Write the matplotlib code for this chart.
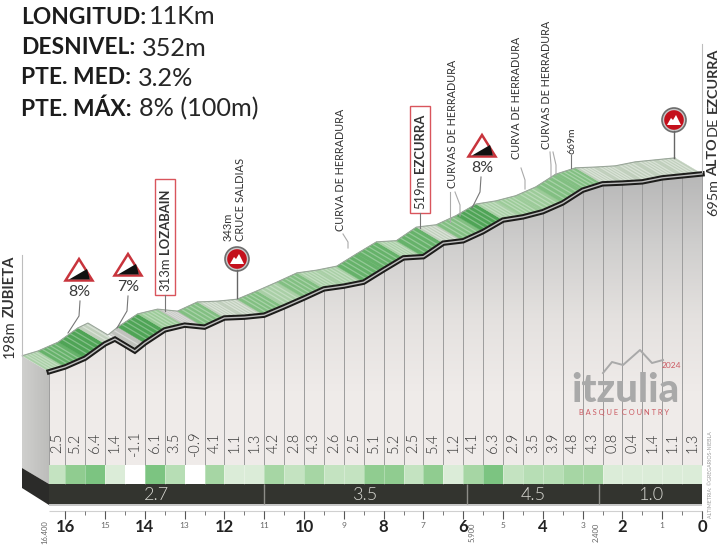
import numpy as np
import matplotlib
matplotlib.use("Agg")
import matplotlib.pyplot as plt
from matplotlib.colors import LinearSegmentedColormap
from matplotlib.patches import Polygon, Circle, Rectangle

plt.rcParams["font.family"] = ["Lato", "DejaVu Sans"]

# road profile
profile_km = [16.4, 16, 15.5, 15, 14.75, 14.5, 14.25, 14, 13.5, 13, 12.5, 12, 11.5, 11, 10.5, 10, 9.5, 9,
              8.5, 8, 7.5, 7, 6.5, 6, 5.5, 5, 4.5, 4, 3.5, 3, 2.5, 2, 1.5, 1, 0.5, 0]
profile_m = [198, 210, 232, 268, 280, 265, 250, 270, 303, 315, 310, 333, 335, 340, 361, 383, 406, 413,
             423, 454, 484, 487, 521, 527, 550, 579, 587, 600, 622, 654, 670, 672, 675, 685, 690, 695]

# gradient of each stretch
gradients = [2.5, 5.2, 6.4, 1.4, -1.1, 6.1, 3.5, -0.9, 4.1, 1.1, 1.3, 4.2, 2.8, 4.3, 2.6, 2.5, 5.1,
             5.2, 2.5, 5.4, 1.2, 4.1, 6.3, 2.9, 3.5, 3.9, 4.8, 4.3, 0.8, 0.4, 1.4, 1.1, 1.3]
cell_edges = [16.4] + [16 - 0.5 * i for i in range(33)]

sector_edges = [16.4, 11, 5.9, 2.58, 0]
sector_labels = ["2.7", "3.5", "4.5", "1.0"]
major_km = [16, 14, 12, 10, 8, 6, 4, 2, 0]
minor_km = [15, 13, 11, 9, 7, 5, 3, 1]

header_bold = ["LONGITUD:", "DESNIVEL:", "PTE. MED:", "PTE. MÁX:"]
header_value = ["11Km", "352m", "3.2%", "8% (100m)"]

W, H = 728, 546
PX_KM = 39.8
PX_M = 0.398
X0, Y198 = 702, 371.7
DX, DY = 27, 16  # 3d offset of the top face


def km_at(px):
    return (X0 - px) / PX_KM


def elev_at(py):
    return 198 + (Y198 - py) / PX_M


def cell_color(g):
    if g < 0:
        return "#ffffff"
    for lim, c in [(2, "#dbecd8"), (3, "#c4e3c1"), (4, "#b7deb5"), (5, "#a6d6a4"), (6, "#90cc90")]:
        if g < lim:
            return c
    return "#7cc481"


def face_color(g):
    if g < 0:
        return "#c0c2bd"
    for lim, c in [(2, "#c0cfbc"), (3, "#a9cfa6"), (4, "#9ccb99"), (5, "#82bf82"), (6, "#66b26a")]:
        if g < lim:
            return c
    return "#4fa456"


fig = plt.figure(figsize=(W / 100, H / 100), dpi=100, facecolor="white")

back = fig.add_axes([0, 0, 1, 1], zorder=1)
ax = fig.add_axes([0, 0, 1, 1], zorder=2)
top = fig.add_axes([0, 0, 1, 1], zorder=3)
for a in (back, top):
    a.set_xlim(0, W)
    a.set_ylim(H, 0)
    a.axis("off")
ax.set_xlim(km_at(0), km_at(W))
ax.set_ylim(elev_at(H), elev_at(0))
ax.axis("off")
ax.patch.set_alpha(0)

km = np.array(profile_km)
elev = np.array(profile_m)
off_km = DX / PX_KM
off_m = DY / PX_M
bottom_m = elev_at(465)

# grey body under the road with vertical fade
cmap = LinearSegmentedColormap.from_list("body", ["#b6b6b6", "#cfcecd", "#e4e1df", "#efebe9", "#f0ecea"])
im = back.imshow(np.linspace(0, 1, 300).reshape(-1, 1), extent=(49, 702, 465, 170), aspect="auto", cmap=cmap, zorder=1)
body = Polygon(np.r_[np.c_[km, elev], [[0, bottom_m], [16.4, bottom_m]]], transform=ax.transData, fc="none", ec="none")
back.add_patch(body)
im.set_clip_path(body)
back.set_xlim(0, W)
back.set_ylim(H, 0)

# left wall of the block
wall = back.imshow(np.linspace(0, 1, 100).reshape(1, -1), extent=(22, 49, 484, 350), aspect="auto",
                   cmap=LinearSegmentedColormap.from_list("wall", ["#cfcfcd", "#bdbdbb"]), zorder=1)
wall_p = Polygon([(22, 356), (49, 372), (49, 484), (22, 468)], fc="none", ec="none")
back.add_patch(wall_p)
wall.set_clip_path(wall_p)
back.set_xlim(0, W)
back.set_ylim(H, 0)
back.add_patch(Polygon([(22, 468), (49, 484), (49, 505), (22, 488)], fc="#2b2b29", ec="none"))

# slats between the stretches
ax.vlines(cell_edges, bottom_m, np.interp(cell_edges, km[::-1], elev[::-1]), color="#9c9c9c", lw=0.7, zorder=2)

# gradient cells and labels
ax.bar(np.array(cell_edges[:-1]), elev_at(465) - elev_at(484), bottom=elev_at(484),
       width=np.diff(cell_edges), align="edge", color=[cell_color(g) for g in gradients], zorder=3)
ax.vlines(cell_edges[1:-1], elev_at(484), elev_at(465), color="#ffffff", lw=0.4, alpha=0.5, zorder=4)
for i, g in enumerate(gradients):
    ax.text((cell_edges[i] + cell_edges[i + 1]) / 2, elev_at(443), f"{g}", rotation=90, ha="center", va="center",
            fontsize=10.5, fontweight=300, color="#333333", zorder=5)

# sector band
ax.bar(16.4, elev_at(484) - elev_at(504), bottom=elev_at(504), width=-16.4, align="edge", color="#33342f", zorder=3)
ax.bar(16.4, elev_at(504) - elev_at(505.5), bottom=elev_at(505.5), width=-16.4, align="edge", color="#c8c8c8", zorder=3)
ax.vlines(sector_edges[1:-1], elev_at(504), elev_at(484), color="#8d8d88", lw=1, zorder=4)
for i, s in enumerate(sector_labels):
    ax.text((sector_edges[i] + sector_edges[i + 1]) / 2, elev_at(494.5), s, ha="center", va="center",
            fontsize=13, fontweight=300, color="#d8d8d2", zorder=5)

# top face, one parallelogram per stretch
for i, g in enumerate(gradients):
    a, b = cell_edges[i], cell_edges[i + 1]
    mask = (km <= a + 1e-6) & (km >= b - 1e-6)
    fk, fe = km[mask], elev[mask]
    pts = np.r_[np.c_[fk, fe], np.c_[fk[::-1] + off_km, fe[::-1] + off_m]]
    ax.add_patch(Polygon(pts, fc=face_color(g), ec=face_color(g), lw=0.3, zorder=5))
    for f in np.linspace(0, 1, 6)[1:-1]:
        sk = a + (b - a) * f
        se = np.interp(sk, km[::-1], elev[::-1])
        ax.plot([sk, sk + off_km], [se, se + off_m], color="white", lw=0.9, alpha=0.3 if g >= 2 else 0.4,
                solid_capstyle="butt", zorder=6)
ax.plot(km + off_km, elev + off_m, color="#9aa69a", lw=0.8, zorder=7)

# road
ax.plot(km, elev, color="#1d1d1b", lw=3.9, solid_joinstyle="miter", zorder=8)
ax.plot(km, elev, color="#bdbdbd", lw=1.0, zorder=9)

# distance axis
ax.hlines(elev_at(511), 0, 16.4, color="#d0d0d0", lw=0.8, zorder=3)
half_km = [0.5 * i for i in range(33)]
ax.vlines(half_km, elev_at(515), elev_at(511), color="#777777", lw=0.7, zorder=3)
ax.vlines(major_km + minor_km, elev_at(519), elev_at(511), color="#555555", lw=0.8, zorder=3)
for k in major_km:
    ax.text(k, elev_at(527.5), str(k), ha="center", va="center", fontsize=12, fontweight="bold", color="#222222")
for k in minor_km:
    ax.text(k, elev_at(525), str(k), ha="center", va="center", fontsize=6, color="#666666")
for k, s, px in [(16.4, "16.400", 45), (5.9, "5.900", 472), (2.4, "2.400", 596)]:
    top.text(px, 532, s, rotation=90, ha="center", va="center", fontsize=5.5, color="#666666")
top.text(710, 475, "ALTIMETRIA: ©GREGARIOS-NIEBLA", rotation=90, ha="center", va="center", fontsize=3.8, color="#9a9a9a")

# header
for i, (b, v) in enumerate(zip(header_bold, header_value)):
    y = [17, 48, 78, 109][i]
    t = top.text(21, y, b, fontsize=16.4, fontweight="bold", color="#1c1c1c", va="center", ha="left")
    fig.canvas.draw()
    x1 = top.transData.inverted().transform(t.get_window_extent().get_points())[1, 0]
    top.text(x1 + (3 if i == 0 else 7), y, v, fontsize=18.2, color="#262626", va="center", ha="left")


def stacked(x, y0, parts, size=9.5, color="#333333"):
    # rotated text running upwards, mixing weights
    y = y0
    r = fig.canvas.get_renderer()
    for s, w in parts:
        t = top.text(x, y, s, rotation=90, ha="center", va="bottom", fontsize=size, fontweight=w, color=color)
        bb = t.get_window_extent(r)
        y -= bb.height + 3


def warning(ax_x, apex_y, label):
    top.add_patch(Polygon([(ax_x, apex_y + 2), (ax_x + 13.5, apex_y + 23.5), (ax_x - 13.5, apex_y + 23.5)],
                          fc="white", ec="#c8343c", lw=1.8, joinstyle="miter"))
    top.add_patch(Polygon([(ax_x - 10, apex_y + 22.5), (ax_x + 8, apex_y + 12), (ax_x + 11, apex_y + 22.5)],
                          fc="#111111", ec="none"))
    top.text(ax_x + 0.5, apex_y + 35, label, ha="center", va="center", fontsize=11.5, color="#3a3a3a")


def summit(cx, cy, r=12):
    top.add_patch(Circle((cx, cy), r, fc="#c9c9c9", ec="#6d6d6d", lw=1.2))
    top.add_patch(Circle((cx, cy), r - 2.2, fc="#c4101c", ec="none"))
    top.add_patch(Polygon([(cx - 7, cy + 5), (cx - 3, cy - 2), (cx - 1, cy + 0), (cx + 2, cy - 5), (cx + 7, cy + 5)],
                          fc="white", ec="none"))


def leader(xs, ys, color="#777777", lw=0.8):
    top.plot(xs, ys, color=color, lw=lw, zorder=2)


# start and finish labels
top.plot([22, 22], [255, 356], color="#bdbdbd", lw=0.8)
top.plot([702, 702], [44, 172], color="#bdbdbd", lw=0.8)
stacked(10, 358, [("198m", "normal"), ("ZUBIETA", "bold")], size=10.6)
stacked(713, 216, [("695m", "normal"), ("ALTO", "bold"), ("DE", "normal"), ("EZCURRA", "bold")], size=10.4)

# boxed villages
top.add_patch(Rectangle((155, 179), 20, 116, fc="white", ec="#d9555c", lw=1))
stacked(165, 291, [("313m", "normal"), ("LOZABAIN", "bold")], size=9.4)
leader([165, 165], [295, 311])
top.add_patch(Rectangle((410, 106), 20, 107, fc="white", ec="#d9555c", lw=1))
stacked(420, 209, [("519m", "normal"), ("EZCURRA", "bold")], size=9.4)
leader([420, 420], [213, 228])

# steep pitch signs
warning(79, 257, "8%")
leader([80, 79, 68], [301, 316, 333])
warning(128, 252, "7%")
leader([128, 127, 117], [296, 311, 328])
warning(482, 133, "8%")
leader([481, 480, 472], [177, 192, 208])

# summits
leader([237, 237], [270, 298], color="#666666", lw=1)
summit(237, 259)
leader([674, 674], [131, 158], color="#666666", lw=1)
summit(674, 120)
stacked(228, 241, [("343m", "normal")], size=8)
stacked(241, 241, [("CRUCE SALDIAS", "normal")], size=8)

# road notes
for x, y0, s in [(340, 231, "CURVA DE HERRADURA"), (452, 188, "CURVAS DE HERRADURA"),
                 (517, 159, "CURVA DE HERRADURA"), (547, 149, "CURVAS DE HERRADURA")]:
    stacked(x, y0, [(s, "normal")], size=7.8)
stacked(572, 154, [("669m", "normal")], size=7.5)
leader([343, 348, 348], [234, 242, 248], color="#aaaaaa")
leader([450, 450], [192, 222], color="#aaaaaa")
leader([455, 460, 460], [192, 205, 216], color="#aaaaaa")
leader([521, 525, 525], [168, 180, 189], color="#aaaaaa")
leader([550, 551, 551], [152, 165, 178], color="#aaaaaa")
leader([553, 556, 556], [152, 165, 175], color="#aaaaaa")
leader([571, 571], [155, 168], color="#777777")

# logo
top.text(625, 390, "itzulia", ha="center", va="center", fontsize=29, fontweight="black", color="#a9a9a9")
top.plot([603, 612, 623, 640, 652, 663], [373, 362, 365, 350, 363, 360], color="#a9a9a9", lw=1.4)
top.text(671, 366, "2024", ha="center", va="center", fontsize=6, color="#cc5a62")
top.text(624, 412, "B A S Q U E  C O U N T R Y", ha="center", va="center", fontsize=5.4, color="#cc5a62")

fig.savefig("out.png", dpi=100)
